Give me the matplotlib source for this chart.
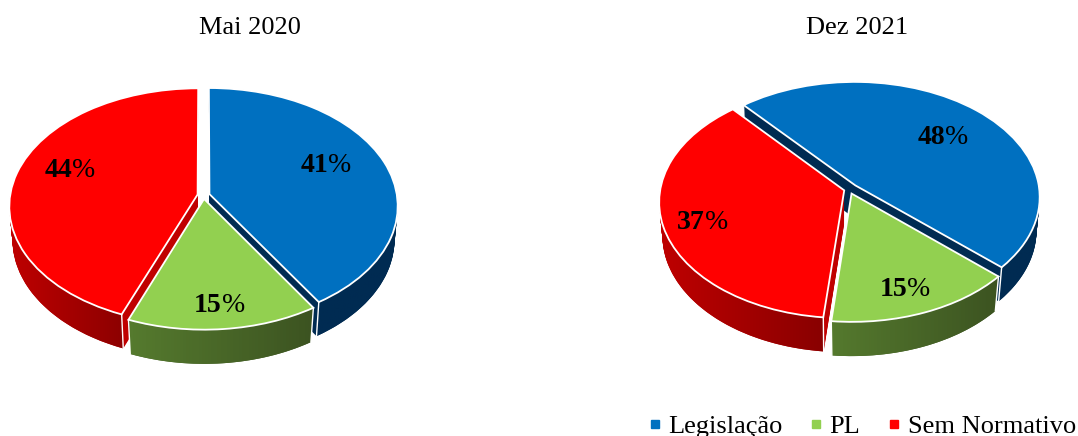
import numpy as np
import matplotlib.pyplot as plt
from matplotlib.colors import LinearSegmentedColormap
from matplotlib.lines import Line2D
from matplotlib.patches import Polygon
from matplotlib.transforms import Transform

plt.rcParams['font.family'] = ['Liberation Serif', 'DejaVu Serif']

categories = ["Legislação", "PL", "Sem Normativo"]
mai_2020 = [41, 15, 44]
dez_2021 = [48, 15, 37]

top_colors = ["#0070C0", "#92D050", "#FF0000"]
side_colors = ["#002B52", "#3F5A20", "#C00000"]
side_left = ["#002B52", "#557A2E", "#C00000"]
side_right = ["#002B52", "#3A5020", "#800000"]

SQUASH = 0.63
DEPTH = 33
SHRINK = 0.25
W, H = 1078, 436


def py(p):
    # pixel row -> data y
    return (H - p) / SQUASH


class Tilt(Transform):
    # fake perspective: front of the pie wider and longer than the back
    input_dims = output_dims = 2
    is_separable = False

    def __init__(self, cx, cy, r, k=0.1, p=0.1):
        super().__init__()
        self.cx, self.cy, self.r, self.k, self.p = cx, cy, r, k, p

    def transform_non_affine(self, xy):
        xy = np.asarray(xy, dtype=float)
        v = (xy[:, 1] - self.cy) / self.r
        x = self.cx + (xy[:, 0] - self.cx) * (1 - self.p * v)
        y = self.cy + self.r * (v + self.k * (1 - v ** 2))
        return np.column_stack([x, y])


fig = plt.figure(figsize=(W / 100, H / 100), dpi=100)
ax = fig.add_axes([0, 0, 1, 1])


def draw_pie(values, cx, cy, radius, start, explode):
    tilt = Tilt(cx, py(cy), radius) + ax.transData

    # side walls, lowest layer first; the pie narrows a little going down
    for d in range(DEPTH, 0, -1):
        side, _ = ax.pie(values, colors=side_colors, startangle=start, counterclock=False,
                         explode=explode, radius=radius - d * SHRINK,
                         center=(cx, py(cy + d)))
        for w in side:
            w.set_transform(tilt)

    wedges, _ = ax.pie(values, colors=top_colors, startangle=start, counterclock=False,
                       explode=explode, radius=radius, center=(cx, py(cy)),
                       wedgeprops=dict(edgecolor="white", linewidth=1.3, zorder=5))
    for w in wedges:
        w.set_transform(tilt)

    # shaded outer wall of each slice
    dy = DEPTH / SQUASH
    low = radius - DEPTH * SHRINK
    for i, w in enumerate(wedges):
        t = np.radians(np.linspace(w.theta1, w.theta2, 300))
        t = t[np.sin(t) < 0]
        if len(t) == 0:
            continue
        x = w.center[0] + w.r * np.cos(t)
        y = w.center[1] + w.r * np.sin(t)
        xb = w.center[0] + low * np.cos(t)
        yb = w.center[1] + low * np.sin(t) - dy
        pts = np.column_stack([np.r_[x, xb[::-1]], np.r_[y, yb[::-1]]])
        wall = Polygon(pts, closed=True, facecolor="none", edgecolor="none")
        ax.add_patch(wall)
        wall.set_transform(tilt)
        cmap = LinearSegmentedColormap.from_list("side", [side_left[i], side_right[i]])
        im = ax.imshow(np.linspace(0, 1, 64).reshape(1, -1), cmap=cmap, aspect="auto",
                       extent=(x.min() - 5, x.max() + 25, y.min() - dy * 2, y.max() + 50),
                       zorder=3)
        im.set_clip_path(wall)
        # thin white line on the wall ends
        for j in (0, -1):
            ln, = ax.plot([x[j], xb[j]], [y[j], yb[j]], color="white", lw=1.0, zorder=4)
            ln.set_transform(tilt)


def pct_label(value, x, base):
    ax.text(x, py(base), str(value), ha="right", va="baseline", fontsize=20,
            fontweight="bold", color="black", zorder=6)
    ax.text(x, py(base), "%", ha="left", va="baseline", fontsize=20,
            color="black", zorder=6)


draw_pie(mai_2020, 203.5, 207, 187.5, 90, [6.2, 6, 6])
draw_pie(dez_2021, 849, 201, 184, 131, [9, 7, 5])

pct_label(mai_2020[0], 328, 172)
pct_label(mai_2020[1], 222, 312)
pct_label(mai_2020[2], 72, 177)
pct_label(dez_2021[0], 945, 144)
pct_label(dez_2021[1], 907, 296)
pct_label(dez_2021[2], 705, 229)

ax.text(250, py(28), "Mai 2020", ha="center", va="center", fontsize=19)
ax.text(857, py(28), "Dez 2021", ha="center", va="center", fontsize=19)

handles = [Line2D([], [], ls="none", marker="s", ms=5.2, color=c) for c in top_colors]
ax.legend(handles, categories, loc="lower right", bbox_to_anchor=(0.998, -0.005), ncol=3,
          frameon=False, fontsize=19, handlelength=0.4, handletextpad=0.3,
          columnspacing=1.09, borderpad=0, borderaxespad=0)

ax.set_aspect("auto")
ax.set_xlim(0, W)
ax.set_ylim(0, H / SQUASH)
ax.axis("off")

fig.savefig("out.png", dpi=100)
